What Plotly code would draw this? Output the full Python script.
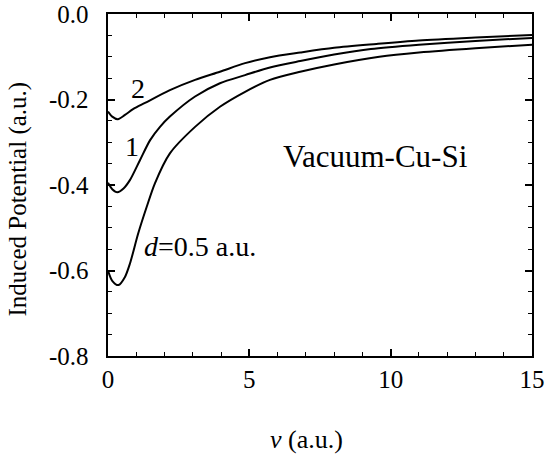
import plotly.graph_objects as go

# d = 0.5 a.u.
x_d05 = [0, 0.15, 0.37, 0.6, 0.78, 1.07, 1.37, 1.66, 2.19, 3.08, 3.96, 4.85, 5.73, 6.8, 8.0, 9.6, 11, 13, 15]
y_d05 = [-0.600, -0.624, -0.634, -0.615, -0.583, -0.513, -0.451, -0.396, -0.326, -0.264, -0.217, -0.182,
         -0.154, -0.135, -0.118, -0.100, -0.090, -0.080, -0.072]
# d = 1 a.u.
x_d1 = [0, 0.15, 0.33, 0.55, 0.78, 1.13, 1.49, 1.84, 2.19, 3.08, 3.96, 4.85, 5.73, 6.8, 8.0, 9.3, 11, 13, 15]
y_d1 = [-0.395, -0.410, -0.417, -0.408, -0.388, -0.342, -0.295, -0.264, -0.240, -0.193, -0.162, -0.143,
        -0.125, -0.110, -0.095, -0.082, -0.072, -0.063, -0.056]
# d = 2 a.u.
x_d2 = [0, 0.15, 0.35, 0.6, 0.9, 1.31, 2.19, 3.08, 3.96, 4.85, 5.73, 6.8, 8.0, 9.5, 11, 13, 15]
y_d2 = [-0.228, -0.240, -0.246, -0.236, -0.222, -0.208, -0.178, -0.154, -0.135, -0.115, -0.101, -0.090,
        -0.079, -0.070, -0.062, -0.055, -0.049]

x_ticks = [0, 5, 10, 15]
y_ticks = [0.0, -0.2, -0.4, -0.6, -0.8]
y_ticklabels = ["0.0", "-0.2", "-0.4", "-0.6", "-0.8"]

FONT = "Liberation Serif"
TICKFONT = dict(family=FONT, size=25, color="black")
PAD = "\u00a0\u00a0"

fig = go.Figure()
for xs, ys in [(x_d05, y_d05), (x_d1, y_d1), (x_d2, y_d2)]:
    fig.add_trace(go.Scatter(x=xs, y=ys, mode="lines",
                             line=dict(color="black", width=2, shape="spline", smoothing=0.8),
                             showlegend=False, hoverinfo="skip"))

ann_font = dict(family=FONT, size=28, color="black")
fig.add_annotation(x=1.07, y=-0.174, text="2", showarrow=False, font=ann_font)
fig.add_annotation(x=0.84, y=-0.310, text="1", showarrow=False, font=ann_font)
fig.add_annotation(x=1.2, y=-0.545, text="<i>d</i>=0.5 a.u.", showarrow=False, font=ann_font, xanchor="left")
fig.add_annotation(x=9.48, y=-0.334, text="Vacuum-Cu-Si", showarrow=False,
                   font=dict(family=FONT, size=31, color="black"))

# axis titles as paper annotations
fig.add_annotation(xref="paper", yref="paper", x=-0.2123, y=0.4605, xanchor="center", yanchor="middle",
                   text="Induced Potential (a.u.)", textangle=-90, showarrow=False,
                   font=dict(family=FONT, size=25, color="black"))
fig.add_annotation(xref="paper", yref="paper", x=0.467, y=-0.2456, xanchor="center", yanchor="middle",
                   text="<i>v</i> (a.u.)", showarrow=False, font=dict(family=FONT, size=26, color="black"))

common = dict(showline=True, linecolor="black", linewidth=2, mirror="allticks",
              ticks="inside", ticklen=7, tickwidth=1.5, tickcolor="black",
              showgrid=False, zeroline=False, tickfont=TICKFONT)

xminor = dict(ticks="inside", ticklen=4, tickwidth=1.2, tickcolor="black", dtick=1, showgrid=False)
yminor = dict(ticks="inside", ticklen=4, tickwidth=1.2, tickcolor="black", dtick=0.05, showgrid=False)

fig.update_layout(
    width=547, height=455, margin=dict(l=108, r=15, t=14, b=99),
    plot_bgcolor="white", paper_bgcolor="white",
    xaxis=dict(range=[0, 15], tickvals=x_ticks, ticktext=[str(v) for v in x_ticks],
               minor=xminor, automargin="bottom", **common),
    yaxis=dict(range=[-0.8, 0.0], tickvals=y_ticks, ticktext=[t + PAD for t in y_ticklabels],
               minor=yminor, automargin="left", **common),
)

fig.write_html("out.html")
